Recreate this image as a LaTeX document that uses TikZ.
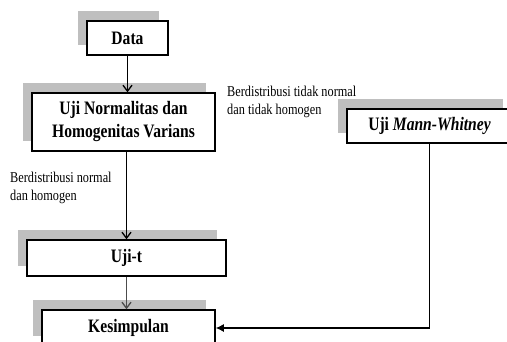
\documentclass[tikz,border=0pt]{standalone}
\usepackage{fontspec}
\setmainfont{Liberation Serif}[FakeStretch=0.82]
\newfontfamily\boxfont{Liberation Serif Bold}[FakeStretch=0.82]
\newfontfamily\boxitfont{Liberation Serif Bold Italic}[FakeStretch=0.82]
\usetikzlibrary{arrows.meta, shadows}

\begin{document}
\begin{tikzpicture}
        [
          x=1pt, y=-1pt,
          box/.style={draw, line width=1.5pt, fill=white, inner sep=0pt,
            align=center, font=\fontsize{19}{23}\boxfont,
            drop shadow={shadow xshift=-9pt, shadow yshift=10pt,
              fill=black!25, opacity=1}},
          note/.style={anchor=north west, inner sep=0pt, align=left,
            font=\fontsize{15}{18}\selectfont},
          flow/.style={line width=1.3pt, -{Straight Barb[length=6pt,width=9pt]}}
        ]
        \clip (0,0) rectangle (507,341);
        % boxes
        \node [box, minimum width=81pt, minimum height=34pt] (data) at (127.5,38) {Data};
        \node [box, minimum width=183pt, minimum height=58pt] (norm) at (123.5,122)
          {Uji Normalitas dan\\Homogenitas Varians};
        \node [box, minimum width=165pt, minimum height=34pt] (mw) at (429.5,126)
          {Uji {\boxitfont Mann-Whitney}};
        \node [box, minimum width=199pt, minimum height=36pt] (ujit) at (126.5,258) {Uji-t};
        \node [box, minimum width=173pt, minimum height=36pt] (kes) at (128.5,328) {Kesimpulan};
        % labels
        \node [note] (tdk) at (227,86) {Berdistribusi tidak normal\\dan tidak homogen};
        \node [note] (nrm) at (10,172) {Berdistribusi normal\\dan homogen};
        % edges
        \draw [flow] (data.south) -- (data.south |- norm.north);
        \draw [flow] (ujit.north |- norm.south) -- (ujit.north);
        \draw [flow, black!70] (ujit.south) -- (ujit.south |- kes.north);
        \draw [line width=1.3pt, -{Latex[length=8pt,width=8pt]}] (mw.south) |- (kes.east);
\end{tikzpicture}
\end{document}
